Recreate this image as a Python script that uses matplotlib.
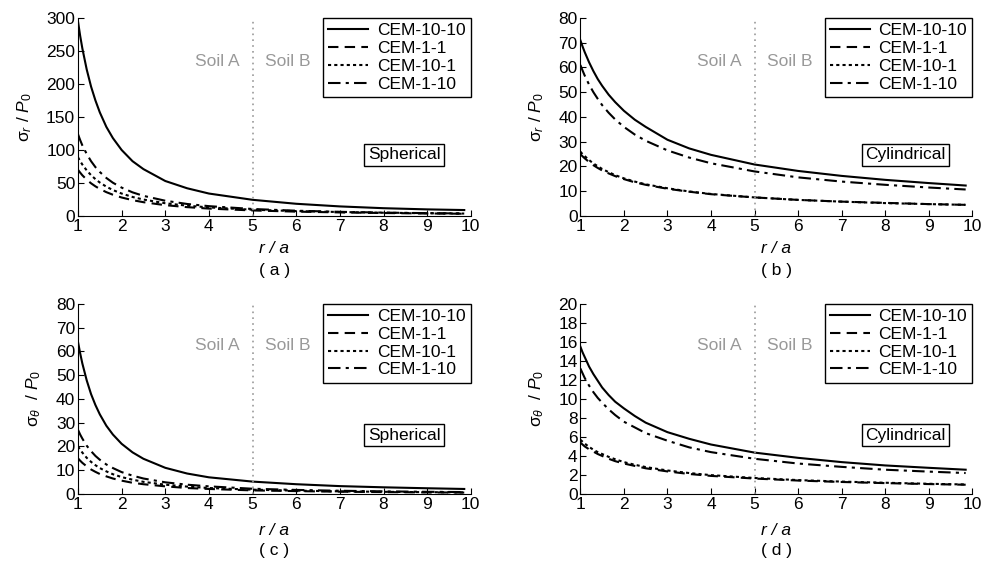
import numpy as np
from matplotlib import pyplot as plt

plt.rcParams['font.family'] = ['Liberation Sans', 'DejaVu Sans']
plt.rcParams['mathtext.fontset'] = 'custom'
plt.rcParams['mathtext.rm'] = 'Liberation Sans'
plt.rcParams['mathtext.it'] = 'Liberation Sans:italic'

r = [1, 1.05, 1.1, 1.2, 1.3, 1.4, 1.5, 1.65, 1.8, 2, 2.25, 2.5, 3, 3.5, 4, 5, 6, 7, 8, 9, 9.85]
names = ["CEM-10-10", "CEM-1-1", "CEM-10-1", "CEM-1-10"]

# (a) spherical, radial stress
a_10_10 = [295, 273, 254, 222, 196, 175, 157, 135, 118, 100, 83, 71, 53, 42, 34, 24.5, 18.5, 14.5, 11.8, 10, 9]
a_1_1 = [70, 65.7, 61.7, 55, 49.5, 44.9, 41, 36.1, 32.2, 28, 24, 20.9, 16.4, 13.4, 11.2, 8.4, 6.6, 5.4, 4.5, 3.8, 3.4]
a_10_1 = [89, 83.2, 77.9, 69.1, 61.8, 55.8, 50.7, 44.4, 39.3, 34, 28.8, 24.9, 19.3, 15.6, 13, 9.5, 7.4, 6.0, 4.9, 4.2, 3.7]
a_1_10 = [124, 115, 107, 94, 83, 74, 66.7, 57.6, 50.4, 43, 35.8, 30.5, 23.1, 18.2, 14.9, 10.6, 8.0, 6.3, 5.1, 4.3, 3.8]

# (b) cylindrical, radial stress
b_10_10 = [71, 68.5, 66.2, 62.1, 58.5, 55.3, 52.6, 49, 46, 42.5, 38.9, 36, 30.8, 27.3, 24.7, 20.8, 18.2, 16.2, 14.6, 13.3, 12.3]
b_1_1 = [25, 24.1, 23.3, 21.8, 20.5, 19.4, 18.4, 17.2, 16.1, 14.9, 13.6, 12.6, 11, 9.8, 8.8, 7.5, 6.5, 5.8, 5.3, 4.8, 4.5]
b_10_1 = [26, 25, 24.2, 22.6, 21.2, 20.1, 19, 17.7, 16.5, 15.2, 13.9, 12.8, 11.2, 9.9, 8.9, 7.5, 6.5, 5.8, 5.2, 4.8, 4.5]
b_1_10 = [61, 58.8, 56.7, 53.1, 50, 47.3, 44.8, 41.7, 39, 36, 32.9, 30.4, 26.5, 23.6, 21.3, 18, 15.6, 13.9, 12.6, 11.5, 10.7]

# (c) spherical, tangential stress
c_10_10 = [64, 59.2, 54.9, 47.8, 42, 37.4, 33.5, 28.7, 25, 21.1, 17.5, 14.8, 11, 8.6, 7, 5.2, 4.1, 3.3, 2.8, 2.4, 2.1]
c_1_1 = [15, 14, 13.1, 11.6, 10.3, 9.3, 8.4, 7.4, 6.5, 5.6, 4.7, 4.1, 3.2, 2.5, 2.1, 1.5, 1.2, 0.95, 0.78, 0.66, 0.58]
c_10_1 = [20, 18.6, 17.4, 15.2, 13.5, 12.1, 10.9, 9.5, 8.3, 7.1, 6, 5.1, 3.9, 3.1, 2.5, 1.8, 1.4, 1.1, 0.9, 0.76, 0.67]
c_1_10 = [27, 25, 23.3, 20.3, 18, 16, 14.4, 12.4, 10.9, 9.2, 7.7, 6.5, 4.9, 3.9, 3.2, 2.2, 1.7, 1.35, 1.1, 0.9, 0.8]

# (d) cylindrical, tangential stress
d_10_10 = [15.5, 14.9, 14.4, 13.4, 12.6, 11.9, 11.2, 10.4, 9.7, 9, 8.2, 7.5, 6.5, 5.8, 5.2, 4.35, 3.8, 3.35, 3.0, 2.75, 2.55]
d_1_1 = [5.4, 5.2, 5.0, 4.7, 4.45, 4.2, 4.0, 3.7, 3.45, 3.2, 2.95, 2.7, 2.37, 2.1, 1.9, 1.62, 1.41, 1.26, 1.14, 1.04, 0.97]
d_10_1 = [5.7, 5.5, 5.3, 4.95, 4.65, 4.4, 4.2, 3.9, 3.65, 3.35, 3.07, 2.83, 2.47, 2.2, 1.98, 1.68, 1.46, 1.3, 1.18, 1.07, 1.0]
d_1_10 = [13.2, 12.7, 12.2, 11.4, 10.7, 10.1, 9.6, 8.9, 8.3, 7.6, 7.0, 6.4, 5.6, 4.9, 4.4, 3.7, 3.2, 2.85, 2.55, 2.35, 2.2]

styles = ['-', (0, (5, 3)), (0, (1.5, 1.5)), (0, (6, 2.5, 1.5, 2.5))]
FS = 12.5


def draw_panel(ax, series, ymax, ystep, ylabel, kind, tag, ypos):
    for vals, ls, nm in zip(series, styles, names):
        ax.plot(r, vals, color='black', linestyle=ls, linewidth=1.5, label=nm)
    ax.axvline(5, color='#999999', linestyle=(0, (1, 2.5)), linewidth=1.2)
    ax.set_xlim(1, 10)
    ax.set_ylim(0, ymax)
    ax.set_xticks(range(1, 11))
    ax.set_yticks(np.arange(0, ymax + ystep / 2, ystep))
    ax.spines['top'].set_visible(False)
    ax.spines['right'].set_visible(False)
    ax.tick_params(direction='in', length=4, labelsize=FS, pad=2)
    ax.set_ylabel(ylabel, fontsize=FS, labelpad=9)
    ax.text(4.7, 0.78 * ymax, "Soil A", color='#999999', fontsize=FS, ha='right', va='center')
    ax.text(5.28, 0.78 * ymax, "Soil B", color='#999999', fontsize=FS, ha='left', va='center')
    ax.text(0.83, 0.31, kind, transform=ax.transAxes, fontsize=FS, ha='center', va='center',
            bbox=dict(facecolor='white', edgecolor='black', boxstyle='square,pad=0.2'))
    ax.text(0.5, ypos[0], "r / a", transform=ax.transAxes, fontsize=FS, style='italic',
            ha='center', va='center')
    ax.text(0.5, ypos[1], "( " + tag + " )", transform=ax.transAxes, fontsize=FS,
            ha='center', va='center')
    leg = ax.legend(loc='upper right', bbox_to_anchor=(1.0, 1.0), borderaxespad=0,
                    fontsize=FS, fancybox=False, framealpha=1, handlelength=2.3,
                    labelspacing=0.15, borderpad=0.3, handletextpad=0.5)
    leg.get_frame().set_edgecolor('black')
    leg.get_frame().set_linewidth(1.0)


fig = plt.figure(figsize=(9.87, 5.61), dpi=100)
ax_a = fig.add_axes([0.079, 0.615, 0.398, 0.353])
ax_b = fig.add_axes([0.588, 0.615, 0.397, 0.353])
ax_c = fig.add_axes([0.079, 0.1195, 0.398, 0.339])
ax_d = fig.add_axes([0.588, 0.1195, 0.397, 0.339])

draw_panel(ax_a, [a_10_10, a_1_1, a_10_1, a_1_10], 300, 50,
           'σ$_r$ / $P_0$', 'Spherical', 'a', (-0.165, -0.275))
draw_panel(ax_b, [b_10_10, b_1_1, b_10_1, b_1_10], 80, 10,
           'σ$_r$ / $P_0$', 'Cylindrical', 'b', (-0.165, -0.275))
draw_panel(ax_c, [c_10_10, c_1_1, c_10_1, c_1_10], 80, 10,
           'σ$_θ$  / $P_0$', 'Spherical', 'c', (-0.19, -0.295))
draw_panel(ax_d, [d_10_10, d_1_1, d_10_1, d_1_10], 20, 2,
           'σ$_θ$  / $P_0$', 'Cylindrical', 'd', (-0.19, -0.295))

fig.savefig('out.png', dpi=100)
